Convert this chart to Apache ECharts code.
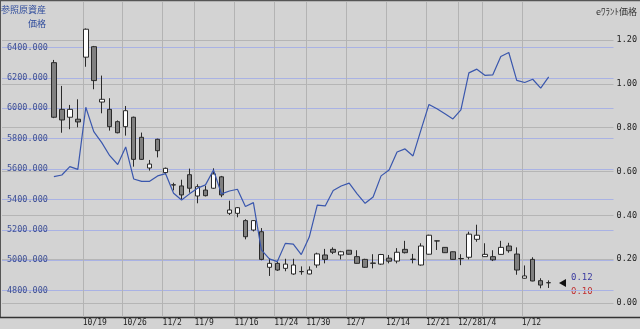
<!DOCTYPE html>
<html><head><meta charset="utf-8">
<script src="https://cdn.jsdelivr.net/npm/echarts@6/dist/echarts.min.js"></script>
<style>html,body{margin:0;padding:0;background:#d3d3d3}#c{width:640px;height:329px}</style>
</head><body><div id="c"></div>
<script>
const dates = ['10/13','10/14','10/15','10/16','10/19','10/20','10/21','10/22','10/23','10/26','10/27','10/28','10/29','10/30','11/2','11/4','11/5','11/6','11/9','11/10','11/11','11/12','11/13','11/16','11/17','11/18','11/19','11/20','11/24','11/25','11/26','11/27','11/30','12/1','12/2','12/3','12/4','12/7','12/8','12/9','12/10','12/11','12/14','12/15','12/16','12/17','12/18','12/21','12/22','12/24','12/25','12/28','12/29','12/30','1/4','1/5','1/6','1/7','1/8','1/12','1/13','1/14','1/15'];
const openP  = [6300,5993,5941,5928,6336,6405,6041,5993,5912,5879,5941,5809,5607,5796,5577,5495,5489,5563,5423,5462,5474,5549,5309,5309,5261,5199,5188,4954,4980,4947,4910,4925,4910,4969,5035,5072,5035,5066,5024,5006,4980,4975,5014,4995,5072,5006,4969,5040,5127,5085,5056,5010,5020,5138,5024,5024,5039,5094,5041,4882,5006,4866,4852];
const closeP = [5941,5923,5993,5910,6520,6182,6059,5879,5839,5984,5664,5664,5633,5721,5605,5497,5430,5474,5484,5425,5568,5430,5331,5346,5155,5261,5006,4980,4936,4975,4969,4926,4936,5042,5006,5053,5056,5040,4980,4954,4982,5038,4994,5053,5050,5007,5094,5165,5128,5050,5006,5012,5172,5165,5039,5003,5085,5063,4936,4897,4864,4837,4853];
const lowP   = [5935,5839,5862,5875,6273,6125,5967,5853,5835,5820,5616,5660,5590,5677,5565,5460,5400,5445,5375,5420,5470,5415,5298,5283,5138,5190,5000,4897,4930,4928,4905,4905,4908,4951,4980,5041,5006,5038,4978,4950,4947,4970,4980,4980,5045,4980,4965,5038,5068,5048,5004,4968,5006,5122,5022,4995,5037,5050,4905,4880,4862,4816,4818];
const highP  = [6318,6147,6022,6059,6525,6410,6215,6066,5920,6015,5945,5840,5660,5800,5610,5510,5530,5603,5500,5490,5605,5555,5392,5350,5270,5265,5212,5013,4990,5010,5010,4960,4960,5050,5075,5085,5062,5068,5066,5010,5040,5042,5035,5080,5128,5042,5112,5168,5130,5087,5058,5040,5188,5234,5112,5066,5128,5115,5085,4966,5020,4882,4868];
const warrant = [0.577,0.584,0.622,0.610,0.893,0.782,0.732,0.672,0.632,0.712,0.566,0.555,0.555,0.580,0.590,0.501,0.470,0.498,0.524,0.539,0.607,0.498,0.511,0.519,0.440,0.458,0.242,0.201,0.189,0.272,0.269,0.221,0.301,0.447,0.443,0.513,0.534,0.547,0.498,0.455,0.484,0.580,0.607,0.689,0.703,0.671,0.790,0.906,0.886,0.863,0.840,0.881,1.050,1.067,1.039,1.041,1.125,1.143,1.016,1.006,1.021,0.980,1.032];
const tickDates = ['10/19','10/26','11/2','11/9','11/16','11/24','11/30','12/7','12/14','12/21','12/28','1/4','1/12'];
const leftTicks = [4800,5000,5200,5400,5600,5800,6000,6200,6400];
const rightTicks = [0,0.2,0.4,0.6,0.8,1.0,1.2];
const quoteLabels = ['0.12','0.10'];

const candleData = dates.map((d,i)=>[i, openP[i], closeP[i], lowP[i], highP[i]]);
const lineData = warrant.map((w,i)=>[i, w]);
const xTickVals = tickDates.map(d => dates.indexOf(d) - 0.375);

const chart = echarts.init(document.getElementById('c'), null, {renderer:'canvas'});
const mono = 'DejaVu Sans Mono';
chart.setOption({
  backgroundColor: '#d3d3d3',
  animation: false,
  grid: {left: 2, right: 25, top: 2, bottom: 12, containLabel: false},
  xAxis: {
    type: 'value', min: -6.5, max: 70.125,
    axisLine: {show: false},
    axisTick: {show: false, customValues: xTickVals},
    splitLine: {show: true, lineStyle: {color: '#b3b3b3', width: 1}},
    axisLabel: {customValues: xTickVals, formatter: v => dates[Math.round(v)] || '', align: 'left',
      margin: 2, color: '#222', fontSize: 8, fontFamily: mono}
  },
  yAxis: [{
    type: 'value', position: 'left', min: 4627, max: 6699,
    axisLine: {show: false},
    axisTick: {show: false, customValues: leftTicks},
    splitLine: {show: true, lineStyle: {color: '#a9b2e4', width: 1}},
    axisLabel: {inside: true, customValues: leftTicks, formatter: v => v.toFixed(3), margin: 5,
      color: '#3d4f95', fontSize: 8.5, fontFamily: mono, verticalAlign: 'middle', padding: [0,0,9,0]}
  }, {
    type: 'value', position: 'right', min: -0.0639, max: 1.3734,
    axisLine: {show: false},
    axisTick: {show: false, customValues: rightTicks},
    splitLine: {show: true, lineStyle: {color: '#b5b5b5', width: 1}},
    axisLabel: {customValues: rightTicks, formatter: v => v.toFixed(2), margin: 3,
      color: '#222', fontSize: 8.5, fontFamily: mono, verticalAlign: 'middle', padding: [0,0,5,0]}
  }],
  series: [{
    type: 'candlestick', xAxisIndex: 0, yAxisIndex: 0,
    encode: {x: 0, y: [1,2,3,4]},
    data: candleData, barWidth: 5,
    itemStyle: {color: '#ffffff', color0: '#808080', borderColor: '#2a2a2a', borderColor0: '#2a2a2a', borderColorDoji: '#2a2a2a', borderWidth: 1}
  }, {
    type: 'line', xAxisIndex: 0, yAxisIndex: 1, data: lineData,
    showSymbol: false, symbol: 'none',
    lineStyle: {color: '#3a57ad', width: 1.2}
  }],
  graphic: [
    {type: 'line', shape: {x1: 0, y1: 0.5, x2: 640, y2: 0.5}, style: {stroke: '#555', lineWidth: 1.5}},
    {type: 'line', shape: {x1: 0.5, y1: 0, x2: 0.5, y2: 318}, style: {stroke: '#555', lineWidth: 1}},
    {type: 'line', shape: {x1: 0, y1: 317.5, x2: 640, y2: 317.5}, style: {stroke: '#333', lineWidth: 1.5}},
    {type: 'text', right: 594, top: 5, style: {text: '参照原資産', fill: '#2f4c9c', font: '9px "Noto Sans CJK JP"', textAlign: 'right'}},
    {type: 'text', right: 594, top: 19, style: {text: '価格', fill: '#2f4c9c', font: '9px "Noto Sans CJK JP"', textAlign: 'right'}},
    {type: 'text', right: 3, top: 7, style: {text: 'eﾜﾗﾝﾄ価格', fill: '#333', font: '9px "Noto Sans CJK JP"'}},
    {type: 'polygon', shape: {points: [[559,283],[566,279],[566,287]]}, style: {fill: '#111'}},
    {type: 'text', left: 571, top: 273, style: {text: quoteLabels[0], fill: '#3a3aa0', font: '9px ' + mono}},
    {type: 'text', left: 571, top: 287, style: {text: quoteLabels[1], fill: '#c03030', font: '9px ' + mono}}
  ]
});
</script></body></html>
